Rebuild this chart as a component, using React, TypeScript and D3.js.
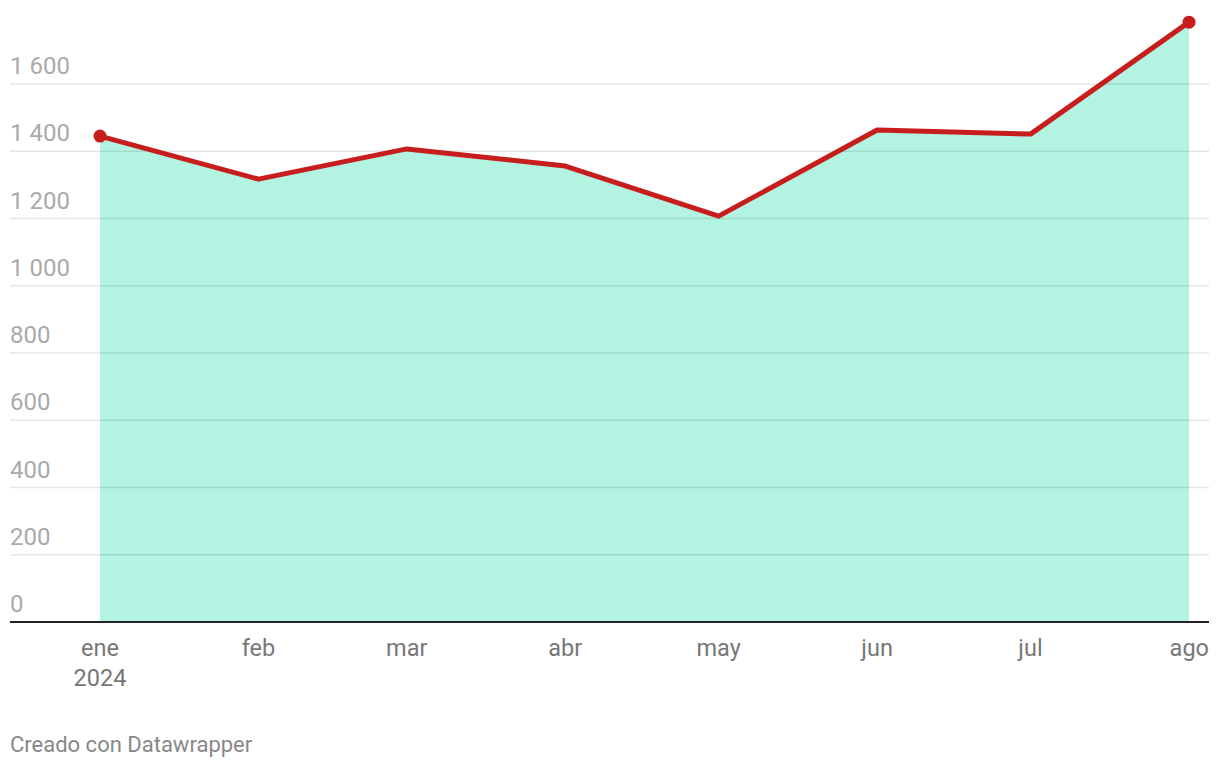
import * as d3 from 'd3'

const months = ['2024-01-01', '2024-02-01', '2024-03-01', '2024-04-01', '2024-05-01', '2024-06-01', '2024-07-01', '2024-08-01']
const monthLabels = ['ene', 'feb', 'mar', 'abr', 'may', 'jun', 'jul', 'ago']
const values = [1445, 1317, 1407, 1356, 1207, 1463, 1451, 1784]
const yTicks = [0, 200, 400, 600, 800, 1000, 1200, 1400, 1600]

const W = 1220
const H = 768
const FONT = 'Roboto, sans-serif'

export default function App() {
  const parse = d3.timeParse('%Y-%m-%d')
  const data = months.map((m, i) => ({ date: parse(m) as Date, value: values[i] }))

  const x = d3.scaleTime()
    .domain(d3.extent(data, d => d.date) as [Date, Date])
    .range([100, 1189])

  const y = d3.scaleLinear()
    .domain([0, 1600])
    .range([622, 84])

  const area = d3.area<{ date: Date; value: number }>()
    .x(d => x(d.date))
    .y0(y(0))
    .y1(d => y(d.value))

  const line = d3.line<{ date: Date; value: number }>()
    .x(d => x(d.date))
    .y(d => y(d.value))

  const first = data[0]
  const last = data[data.length - 1]

  return (
    <svg width={W} height={H} style={{ position: 'absolute', left: 0, top: 0, background: '#fff' }}>
      {/* area */}
      <path d={area(data) || ''} fill="#b3f3e2" />

      {/* grid */}
      {yTicks.filter(t => t > 0).map(t => (
        <line key={t} x1={10} x2={1209} y1={y(t)} y2={y(t)} stroke="#000" strokeOpacity={0.1} strokeWidth={1.5} />
      ))}
      {yTicks.map(t => (
        <text key={'l' + t} x={10} y={y(t) - 10} fontFamily={FONT} fontSize={24} fill="#aaaaaa">
          {d3.format(',')(t).replace(/,/g, ' ')}
        </text>
      ))}

      {/* baseline */}
      <line x1={10} x2={1209} y1={y(0)} y2={y(0)} stroke="#222" strokeWidth={2} />

      {/* line */}
      <path d={line(data) || ''} fill="none" stroke="#c71e1d" strokeWidth={5} strokeLinejoin="round" />
      <circle cx={x(first.date)} cy={y(first.value)} r={6.5} fill="#c71e1d" />
      <circle cx={x(last.date)} cy={y(last.value)} r={6.5} fill="#c71e1d" />

      {/* x labels */}
      {data.map((d, i) => {
        const isLast = i === data.length - 1
        return (
          <text
            key={months[i]}
            x={isLast ? 1209 : x(d.date)}
            y={656}
            textAnchor={isLast ? 'end' : 'middle'}
            fontFamily={FONT}
            fontSize={23.5}
            fill="#777777"
          >
            {monthLabels[i]}
          </text>
        )
      })}
      <text x={x(first.date)} y={686} textAnchor="middle" fontFamily={FONT} fontSize={23.5} fill="#777777">2024</text>

      <text x={10} y={752} fontFamily={FONT} fontSize={22} fill="#888888">Creado con Datawrapper</text>
    </svg>
  )
}
